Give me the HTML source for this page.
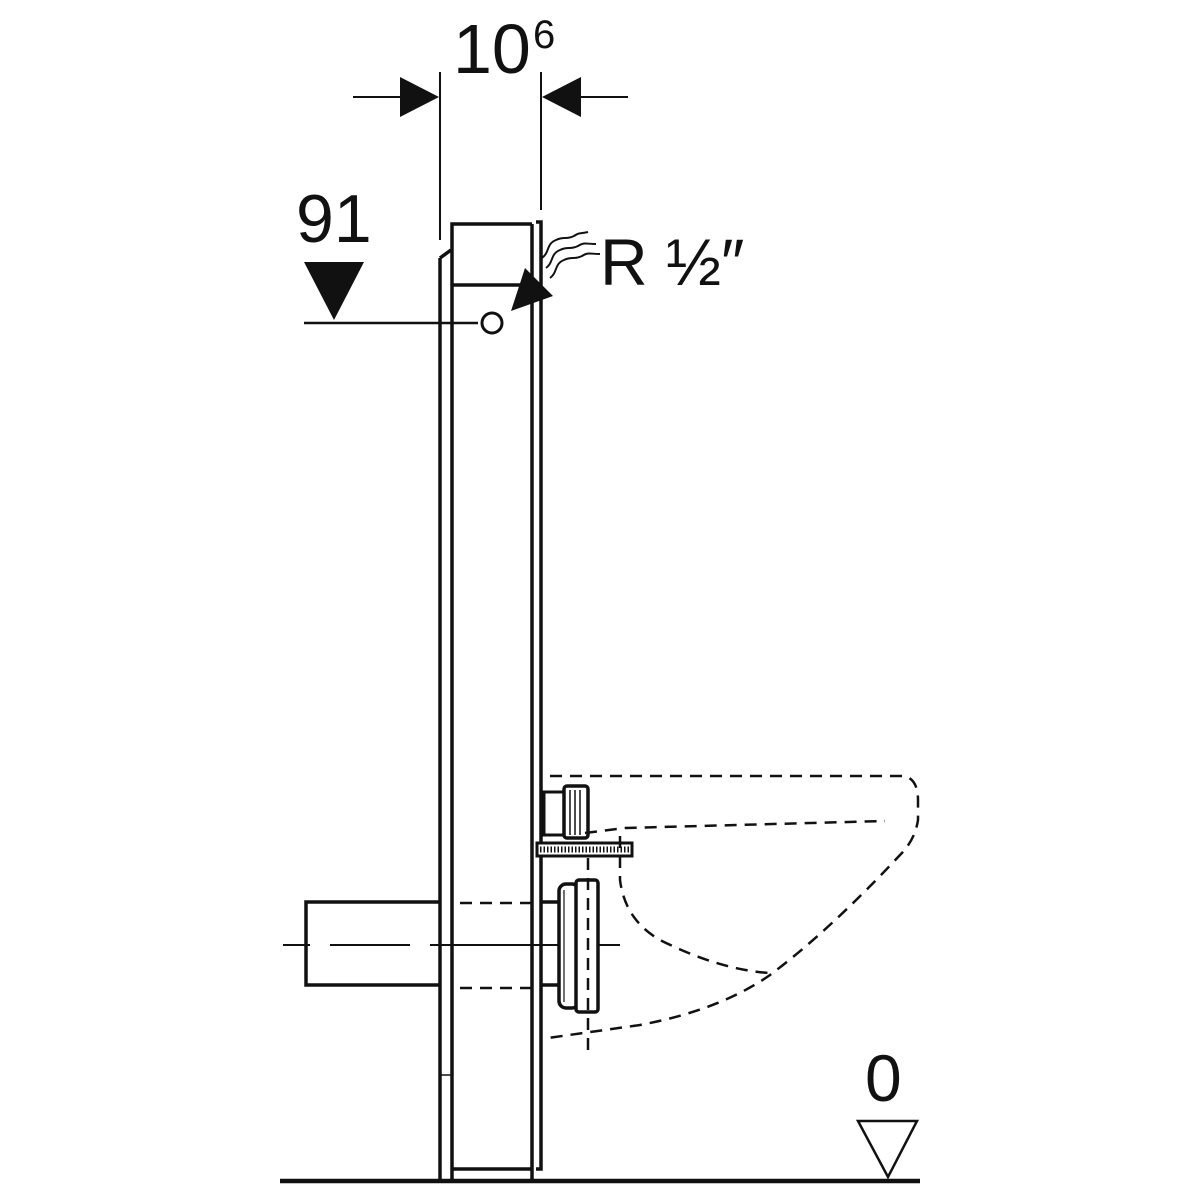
<!DOCTYPE html>
<html><head><style>html,body{margin:0;padding:0;background:#fff}svg{display:block}</style></head>
<body>
<svg width="1200" height="1200" viewBox="0 0 1200 1200" xmlns="http://www.w3.org/2000/svg" font-family="Liberation Sans, sans-serif">
<rect width="1200" height="1200" fill="#fff"/>
<g stroke="#111" fill="none">
<line x1="440" y1="72" x2="440" y2="240" stroke-width="2"/>
<line x1="541" y1="72" x2="541" y2="210" stroke-width="2"/>
<line x1="353" y1="97" x2="400" y2="97" stroke-width="2"/>
<line x1="580" y1="97" x2="628" y2="97" stroke-width="2"/>
</g>
<polygon points="400,77 439,97 400,117" fill="#111"/>
<polygon points="581,77 542,97 581,117" fill="#111"/>
<text x="453" y="73" font-size="70" fill="#111">10</text>
<text x="533" y="48" font-size="40" fill="#111">6</text>
<text x="296" y="242" font-size="68" fill="#111">91</text>
<polygon points="304,262 364,262 334,320" fill="#111"/>
<line x1="304" y1="323" x2="478" y2="323" stroke="#111" stroke-width="2.5"/>
<circle cx="492" cy="323" r="10" fill="#fff" stroke="#111" stroke-width="3"/>
<text x="600" y="285" font-size="66" fill="#111">R ½″</text>
<g stroke="#111" stroke-width="2" fill="none">
<path d="M542,258 c8,-6 4,-14 14,-18 c8,-4 10,0 18,-4 c6,-4 6,-2 14,-4"/>
<path d="M546,268 c8,-6 4,-14 14,-18 c8,-4 10,0 18,-4 c6,-4 8,-2 18,-2"/>
<path d="M550,278 c8,-6 4,-14 14,-18 c8,-4 10,0 18,-4 c6,-4 8,-2 18,-2"/>
</g>
<polygon points="525,268 553,296 511,311" fill="#111"/>
<g stroke="#111" stroke-width="3.5" fill="none">
<line x1="440" y1="258" x2="440" y2="1180"/>
<path d="M440,258 L451,250"/>
<line x1="452" y1="284" x2="452" y2="1180"/>
<path d="M452,1169 L532,1169"/>
<path d="M452,285 L532,285"/>
<path d="M452,285 L452,224 L532,224"/>
<line x1="532" y1="224" x2="532" y2="1180"/>
<path d="M536,222 L541,222 L541,1169 L536,1169"/>
</g>
<line x1="440" y1="1075" x2="452" y2="1075" stroke="#111" stroke-width="1.5"/>
<line x1="280" y1="1181" x2="920" y2="1181" stroke="#111" stroke-width="4.5"/>
<polygon points="858,1121 917,1121 888,1177" fill="#fff" stroke="#111" stroke-width="2.5"/>
<text x="865" y="1101" font-size="66" fill="#111">0</text>
<g stroke="#111" stroke-width="3.5" fill="none">
<path d="M440,902 L306,902 L306,985 L440,985"/>
<path d="M541,902 L562,902 M541,985 L562,985"/>
</g>
<g stroke="#111" stroke-width="2.5" fill="none" stroke-dasharray="12,8">
<line x1="460" y1="903" x2="536" y2="903"/>
<line x1="460" y1="988" x2="536" y2="988"/>
</g>
<path d="M283,945 L310,945 M330,945 L410,945 M430,945 L620,945" stroke="#111" stroke-width="2"/>
<rect x="559" y="884" width="20" height="124" rx="7" fill="#fff" stroke="#111" stroke-width="3.5"/>
<rect x="576" y="880" width="22" height="132" rx="3" fill="#fff" stroke="#111" stroke-width="3.5"/>
<line x1="564" y1="890" x2="564" y2="1002" stroke="#111" stroke-width="1.2"/>
<rect x="544" y="792" width="20" height="43" fill="#fff" stroke="#111" stroke-width="3"/>
<rect x="564" y="786" width="24" height="52" rx="3" fill="#fff" stroke="#111" stroke-width="3.5"/>
<g stroke="#111" stroke-width="1.5"><line x1="570" y1="790" x2="570" y2="835"/><line x1="575" y1="790" x2="575" y2="835"/><line x1="580" y1="790" x2="580" y2="835"/></g>
<rect x="537" y="843" width="95" height="13" fill="#fff" stroke="#111" stroke-width="3"/>
<line x1="540" y1="849.5" x2="630" y2="849.5" stroke="#111" stroke-width="6" stroke-dasharray="1.5,2"/>
<g stroke="#111" stroke-width="2.5" fill="none" stroke-dasharray="12,8">
<path d="M550,776 L905,776 Q918,780 918,800 L918,820 Q915,840 900,855 Q830,930 770,975 Q720,1010 640,1025 L548,1038"/>
<path d="M585,833 L625,828 L885,821"/>
<path d="M620,836 L620,880 Q625,920 660,940 Q720,970 770,973"/>
<line x1="588" y1="858" x2="588" y2="1055"/>
</g>
</svg>
</body></html>
